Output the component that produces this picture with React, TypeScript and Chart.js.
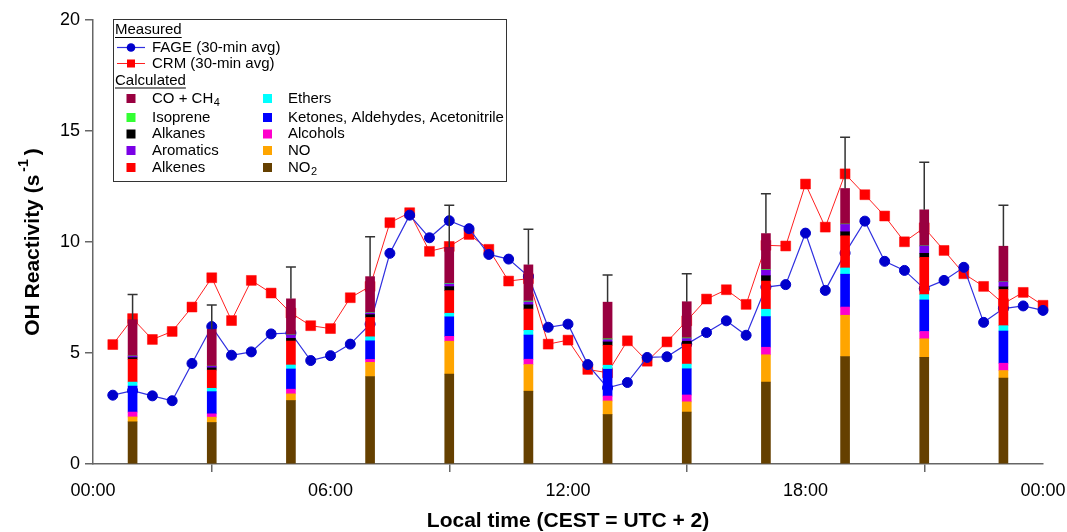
import React, { useEffect, useRef } from "react";
import { Chart, registerables } from "chart.js";

Chart.register(...registerables);

// ---------- data ----------
const measuredTimes = [
  0.5, 1, 1.5, 2, 2.5, 3, 3.5, 4, 4.5, 5, 5.5, 6,
  6.5, 7, 7.5, 8, 8.5, 9, 9.5, 10, 10.5, 11, 11.5, 12,
  12.5, 13, 13.5, 14, 14.5, 15, 15.5, 16, 16.5, 17, 17.5, 18,
  18.5, 19, 19.5, 20, 20.5, 21, 21.5, 22, 22.5, 23, 23.5, 24,
];
const fageValues = [
  3.1, 3.3, 3.07, 2.85, 4.53, 6.19, 4.9, 5.05, 5.86, 5.9, 4.66, 4.88,
  5.4, 6.3, 9.49, 11.21, 10.19, 10.96, 10.6, 9.44, 9.23, 8.45, 6.16, 6.3,
  4.48, 3.43, 3.67, 4.8, 4.83, 5.4, 5.92, 6.45, 5.8, 7.97, 8.08, 10.4,
  7.82, 9.5, 10.94, 9.13, 8.72, 7.9, 8.27, 8.86, 6.38, 7.0, 7.12, 6.92,
];
const crmValues = [
  5.38, 6.55, 5.61, 5.97, 7.07, 8.39, 6.46, 8.27, 7.7, 6.8, 6.23, 6.1,
  7.49, 8.0, 10.87, 11.32, 9.58, 9.8, 10.34, 9.67, 8.24, 8.35, 5.4, 5.58,
  4.26, 4.11, 5.55, 4.63, 5.5, 6.45, 7.43, 7.85, 7.19, 9.85, 9.82, 12.61,
  10.67, 13.07, 12.13, 11.17, 10.01, 10.64, 9.62, 8.57, 8.0, 7.22, 7.73, 7.15,
];

const calcHours = [1, 3, 5, 7, 9, 11, 13, 15, 17, 19, 21, 23];
const no2Values = [1.9, 1.87, 2.86, 3.94, 4.05, 3.28, 2.23, 2.34, 3.69, 4.84, 4.8, 3.87];
const noValues = [0.22, 0.24, 0.3, 0.64, 1.48, 1.2, 0.61, 0.46, 1.23, 1.86, 0.84, 0.34];
const alcoholValues = [0.22, 0.15, 0.21, 0.13, 0.22, 0.24, 0.22, 0.31, 0.34, 0.37, 0.33, 0.33];
const ketoneValues = [1.17, 1.0, 0.91, 0.84, 0.88, 1.09, 1.21, 1.18, 1.38, 1.48, 1.42, 1.45];
const etherValues = [0.18, 0.15, 0.18, 0.18, 0.16, 0.21, 0.18, 0.21, 0.33, 0.28, 0.24, 0.24];
const alkeneValues = [1.03, 0.82, 1.08, 0.87, 1.02, 0.96, 0.9, 0.9, 1.27, 1.45, 1.68, 1.63];
const alkaneValues = [0.07, 0.1, 0.12, 0.13, 0.18, 0.19, 0.15, 0.13, 0.24, 0.18, 0.18, 0.12];
const aromaticValues = [0.07, 0.07, 0.15, 0.07, 0.12, 0.13, 0.1, 0.12, 0.25, 0.33, 0.33, 0.22];
const isopreneValues = [0.01, 0.01, 0.01, 0.02, 0.03, 0.04, 0.04, 0.03, 0.03, 0.02, 0.01, 0.01];
const coCh4Values = [1.63, 1.65, 1.62, 1.62, 1.62, 1.63, 1.65, 1.63, 1.62, 1.6, 1.62, 1.6];
const calcUpperError = [7.64, 7.16, 8.87, 10.24, 11.65, 10.57, 8.51, 8.57, 12.17, 14.72, 13.59, 11.65];

const xTickLabels = ["00:00", "06:00", "12:00", "18:00", "00:00"];
const yTickValues = [0, 5, 10, 15, 20];

// ---------- styles ----------
const FONT = "'Liberation Sans', Arial, Helvetica, sans-serif";
const AXIS_COLOR = "#666666";

const calcSeries = [
  { label: "NO2", values: no2Values, color: "#654000" },
  { label: "NO", values: noValues, color: "#FFA500" },
  { label: "Alcohols", values: alcoholValues, color: "#FF00CC" },
  { label: "Ketones, Aldehydes, Acetonitrile", values: ketoneValues, color: "#0000FF" },
  { label: "Ethers", values: etherValues, color: "#00FFFF" },
  { label: "Alkenes", values: alkeneValues, color: "#FF0000" },
  { label: "Alkanes", values: alkaneValues, color: "#000000" },
  { label: "Aromatics", values: aromaticValues, color: "#7A00E6" },
  { label: "Isoprene", values: isopreneValues, color: "#33FF33" },
  { label: "CO + CH4", values: coCh4Values, color: "#990040" },
];
const colorOf = (label: string) => calcSeries.find((s) => s.label === label)!.color;

// ---------- plugins ----------
const errorBarPlugin = {
  id: "errorBars",
  afterDatasetsDraw(chart: any) {
    const { ctx, scales } = chart;
    const x = scales.x;
    const y = scales.y;
    ctx.save();
    ctx.strokeStyle = "#333333";
    ctx.lineWidth = 1.5;
    calcHours.forEach((h, i) => {
      const total = calcSeries.reduce((s, c) => s + c.values[i], 0);
      const px = x.getPixelForValue(h);
      const y0 = y.getPixelForValue(total);
      const y1 = y.getPixelForValue(calcUpperError[i]);
      ctx.beginPath();
      ctx.moveTo(px, y0);
      ctx.lineTo(px, y1);
      ctx.moveTo(px - 5, y1);
      ctx.lineTo(px + 5, y1);
      ctx.stroke();
    });
    ctx.restore();
  },
};

function drawSubText(ctx: any, x: number, y: number, main: string, sub: string, size: number) {
  ctx.font = `${size}px ${FONT}`;
  ctx.fillText(main, x, y);
  const w = ctx.measureText(main).width;
  ctx.font = `${Math.round(size * 0.7)}px ${FONT}`;
  ctx.fillText(sub, x + w + 0.5, y + size * 0.3);
}

const decorPlugin = {
  id: "decor",
  afterDraw(chart: any) {
    const { ctx, chartArea } = chart;
    ctx.save();
    // ---- legend box ----
    const bx = 113, by = 19, bw = 393, bh = 162;
    ctx.fillStyle = "#ffffff";
    ctx.fillRect(bx, by, bw, bh);
    ctx.strokeStyle = "#333333";
    ctx.lineWidth = 1;
    ctx.strokeRect(bx + 0.5, by + 0.5, bw, bh);

    const fs = 15;
    ctx.fillStyle = "#000";
    ctx.textBaseline = "middle";
    ctx.textAlign = "left";
    ctx.font = `${fs}px ${FONT}`;

    const underlined = (text: string, x: number, y: number) => {
      ctx.font = `${fs}px ${FONT}`;
      ctx.fillStyle = "#000";
      ctx.fillText(text, x, y);
      const w = ctx.measureText(text).width;
      ctx.fillRect(x, y + 7, w, 1);
    };
    underlined("Measured", 115, 30);

    // FAGE
    ctx.strokeStyle = "#3030E0";
    ctx.lineWidth = 1.2;
    ctx.beginPath();
    ctx.moveTo(117, 47.5);
    ctx.lineTo(145, 47.5);
    ctx.stroke();
    ctx.fillStyle = "#0000CC";
    ctx.beginPath();
    ctx.arc(131, 47.5, 4.3, 0, Math.PI * 2);
    ctx.fill();
    ctx.fillStyle = "#000";
    ctx.font = `${fs}px ${FONT}`;
    ctx.fillText("FAGE (30-min avg)", 152, 47.5);

    // CRM
    ctx.strokeStyle = "#FF2020";
    ctx.lineWidth = 1;
    ctx.beginPath();
    ctx.moveTo(117, 63.5);
    ctx.lineTo(145, 63.5);
    ctx.stroke();
    ctx.fillStyle = "#FF0000";
    ctx.fillRect(127, 59.5, 8, 8);
    ctx.fillStyle = "#000";
    ctx.fillText("CRM (30-min avg)", 152, 63.5);

    underlined("Calculated", 115, 80.5);

    const col1 = ["CO + CH4", "Isoprene", "Alkanes", "Aromatics", "Alkenes"];
    const col2 = ["Ethers", "Ketones, Aldehydes, Acetonitrile", "Alcohols", "NO", "NO2"];
    const rowsY = [98.5, 117.5, 134, 150.5, 167.5];
    const drawEntry = (label: string, sx: number, tx: number, yy: number) => {
      ctx.fillStyle = colorOf(label);
      ctx.fillRect(sx - 4.5, yy - 4.5, 9, 9);
      ctx.fillStyle = "#000";
      if (label === "CO + CH4") drawSubText(ctx, tx, yy, "CO + CH", "4", fs);
      else if (label === "NO2") drawSubText(ctx, tx, yy, "NO", "2", fs);
      else {
        ctx.font = `${fs}px ${FONT}`;
        ctx.fillText(label, tx, yy);
      }
    };
    col1.forEach((l, i) => drawEntry(l, 131, 152, rowsY[i]));
    col2.forEach((l, i) => drawEntry(l, 267.5, 288, rowsY[i]));

    // ---- x axis title ----
    ctx.fillStyle = "#000";
    ctx.textAlign = "center";
    ctx.textBaseline = "middle";
    ctx.font = `bold 21px ${FONT}`;
    ctx.fillText("Local time (CEST = UTC + 2)", (chartArea.left + chartArea.right) / 2, 521);

    // ---- y axis title (rotated, with superscript) ----
    ctx.save();
    ctx.translate(33, 242);
    ctx.rotate(-Math.PI / 2);
    ctx.textAlign = "left";
    const mainT = "OH Reactivity (s";
    const supT = "-1";
    const endT = ")";
    ctx.font = `bold 21px ${FONT}`;
    const w1 = ctx.measureText(mainT).width;
    const w3 = ctx.measureText(endT).width;
    ctx.font = `bold 14px ${FONT}`;
    const w2 = ctx.measureText(supT).width;
    const total = w1 + 3 + w2 + 4 + w3;
    let cx = -total / 2;
    ctx.font = `bold 21px ${FONT}`;
    ctx.fillText(mainT, cx, 0);
    cx += w1 + 3;
    ctx.font = `bold 14px ${FONT}`;
    ctx.fillText(supT, cx, -9);
    cx += w2 + 4;
    ctx.font = `bold 21px ${FONT}`;
    ctx.fillText(endT, cx, 0);
    ctx.restore();

    ctx.restore();
  },
};

export default function App() {
  const canvasRef = useRef<HTMLCanvasElement | null>(null);

  useEffect(() => {
    const canvas = canvasRef.current;
    if (!canvas) return;

    const barDatasets = calcSeries.map((s) => ({
      type: "bar" as const,
      label: s.label,
      data: calcHours.map((h, i) => ({ x: h, y: s.values[i] })),
      backgroundColor: s.color,
      borderWidth: 0,
      barThickness: 9,
      stack: "calc",
      order: 1,
    }));

    const chart = new Chart(canvas, {
      type: "bar",
      data: {
        datasets: [
          {
            type: "line",
            label: "FAGE (30-min avg)",
            data: measuredTimes.map((t, i) => ({ x: t, y: fageValues[i] })),
            borderColor: "#3030E0",
            borderWidth: 1.2,
            pointStyle: "circle",
            pointRadius: 5,
            pointBackgroundColor: "#0000CC",
            pointBorderColor: "#0000CC",
            pointBorderWidth: 1,
            tension: 0,
            clip: false,
            stack: "fage",
            order: 2,
          } as any,
          {
            type: "line",
            label: "CRM (30-min avg)",
            data: measuredTimes.map((t, i) => ({ x: t, y: crmValues[i] })),
            borderColor: "#FF2020",
            borderWidth: 1,
            pointStyle: "rect",
            pointRadius: 7,
            pointBackgroundColor: "#FF0000",
            pointBorderColor: "#FF0000",
            pointBorderWidth: 0.5,
            tension: 0,
            clip: false,
            stack: "crm",
            order: 3,
          } as any,
          ...barDatasets,
        ],
      },
      options: {
        responsive: false,
        maintainAspectRatio: false,
        animation: false,
        layout: { padding: { left: 0, right: 24, top: 20, bottom: 0 } },
        plugins: {
          legend: { display: false },
          tooltip: { enabled: false },
          title: { display: false },
        },
        scales: {
          x: {
            type: "linear",
            min: 0,
            max: 24,
            offset: false,
            stacked: true,
            afterFit: (scale: any) => {
              scale.height = 68;
              scale.paddingLeft = 0;
              scale.paddingRight = 0;
            },
            afterBuildTicks: (scale: any) => {
              scale.ticks = xTickLabels.map((_, i) => ({ value: i * 6 }));
            },
            ticks: {
              autoSkip: false,
              maxRotation: 0,
              padding: 8,
              color: "#000",
              font: { family: FONT, size: 18 },
              callback: (v: any) => xTickLabels[Math.round(Number(v) / 6)],
            },
            grid: {
              drawOnChartArea: false,
              drawTicks: true,
              tickLength: 8,
              color: AXIS_COLOR,
              lineWidth: 1.5,
            },
            border: { display: true, color: AXIS_COLOR, width: 1.5 },
          },
          y: {
            type: "linear",
            min: 0,
            max: 20,
            stacked: true,
            afterFit: (scale: any) => {
              scale.width = 93;
              scale.paddingTop = 0;
              scale.paddingBottom = 0;
            },
            afterBuildTicks: (scale: any) => {
              scale.ticks = yTickValues.map((v) => ({ value: v }));
            },
            ticks: {
              padding: 5,
              color: "#000",
              font: { family: FONT, size: 18 },
            },
            grid: {
              drawOnChartArea: false,
              drawTicks: true,
              tickLength: 8,
              color: AXIS_COLOR,
              lineWidth: 1.5,
            },
            border: { display: true, color: AXIS_COLOR, width: 1.5 },
          },
        },
      } as any,
      plugins: [errorBarPlugin, decorPlugin],
    });

    return () => chart.destroy();
  }, []);

  return (
    <div style={{ position: "fixed", left: 0, top: 0, width: 1067, height: 532, background: "#fff" }}>
      <canvas ref={canvasRef} width={1067} height={532} style={{ display: "block" }} />
    </div>
  );
}
